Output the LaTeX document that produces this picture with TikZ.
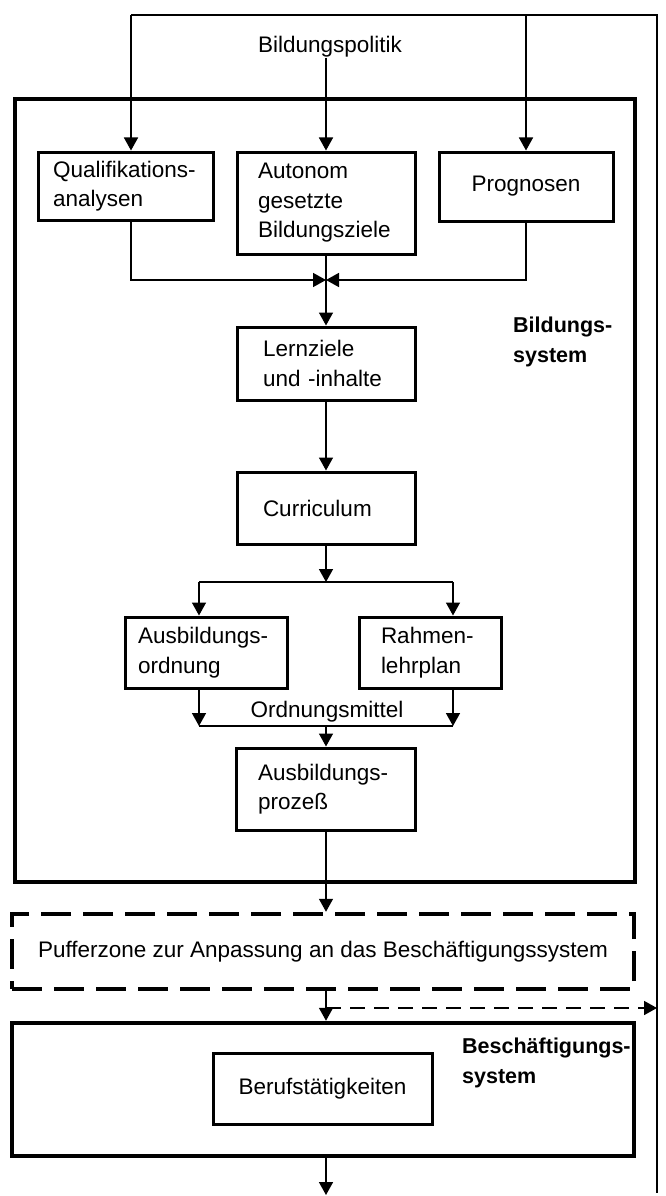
\documentclass[tikz,border=0pt]{standalone}
\usepackage{fontspec}
\setmainfont{Liberation Sans}
\usetikzlibrary{arrows.meta}
\begin{document}
\begin{tikzpicture}[x=1pt,y=-1pt,
  conn/.style={line width=1.6pt},
  arr/.style={conn,-{Triangle[length=13pt,width=14pt]}},
  txt/.style={font=\fontsize{22.5}{29.5}\selectfont},
  box/.style={txt,draw,line width=3pt,align=left,inner ysep=0pt},
  cbox/.style={txt,draw,line width=3pt,align=center,inner sep=0pt},
  frame/.style={draw,line width=4.5pt,inner sep=0pt},
  lbl/.style={txt,inner sep=0pt},
  blbl/.style={font=\fontsize{21.5}{29.5}\selectfont\bfseries,align=left,inner sep=0pt,anchor=north west},
]
\useasboundingbox (0,0) rectangle (666,1196);

% big frames
\node[frame,minimum width=620pt,minimum height=783pt] (BS) at (325,490.5) {};
\node[frame,txt,dash pattern=on 30pt off 12pt,minimum width=622pt,minimum height=75pt] (PZ) at (323,951.5) {Pufferzone zur Anpassung an das Beschäftigungssystem};
\node[frame,minimum width=622pt,minimum height=133pt] (BE) at (323,1089.5) {};

% boxes
\node[box,text width=145pt,inner xsep=15pt,minimum height=68pt] (Q) at (125.5,186) {Qualifikations-\\analysen};
\node[box,text width=136pt,inner xsep=21pt,minimum height=102pt] (A) at (326,203) {Autonom\\gesetzte\\Bildungsziele};
\node[cbox,minimum width=174pt,minimum height=69pt] (P) at (526,186.5) {Prognosen};
\node[box,text width=126pt,inner xsep=26pt,minimum height=73pt] (L) at (326,363.5) {Lernziele\\und -inhalte};
\node[box,text width=126pt,inner xsep=26pt,minimum height=72pt] (C) at (326,508) {Curriculum};
\node[box,text width=136pt,inner xsep=13pt,minimum height=71pt] (O) at (206,652.5) {Ausbildungs-\\ordnung};
\node[box,text width=98pt,inner xsep=22pt,minimum height=71pt] (R) at (430,652.5) {Rahmen-\\lehrplan};
\node[box,text width=136pt,inner xsep=21.5pt,minimum height=82pt] (AP) at (326,789) {Ausbildungs-\\prozeß};
\node[cbox,minimum width=219pt,minimum height=71pt] (BT) at (322.5,1088.5) {Berufstätigkeiten};

% labels
\node[lbl] (BPol) at (330,47) {Bildungspolitik};
\node[blbl] (BSl) at (513,317) {Bildungs-\\system};
\node[blbl] (BEl) at (462,1038) {Beschäftigungs-\\system};
\node[lbl] (OM) at (327,712) {Ordnungsmittel};

% top distribution and feedback line
\coordinate (tl) at (131,15);
\coordinate (tr) at (657,15);
\coordinate (br) at (657,1193);
\draw[conn] (tl) -- (tr) -- (br);
\draw[arr] (tl) -- (tl |- Q.north);
\draw[arr] (P.north |- tl) -- (P.north);
\draw[arr] (BPol.south -| A.north) -- (A.north);

% merge
\coordinate (m) at (326,280);
\draw[arr] (tl |- Q.south) |- (m);
\draw[arr] (P.south) |- (m);
\draw[arr] (A.south) -- (L.north);
\draw[arr] (L.south) -- (C.north);

% split
\coordinate (s) at (326,582);
\coordinate (sl) at (199,582);
\coordinate (sr) at (453,582);
\draw[arr] (C.south) -- (s);
\draw[conn] (sl) -- (sr);
\draw[arr] (sl) -- (sl |- O.north);
\draw[arr] (sr) -- (sr |- R.north);

% Ordnungsmittel
\coordinate (ol) at (199,726);
\coordinate (or) at (453,726);
\draw[arr] (ol |- O.south) -- (ol);
\draw[arr] (or |- R.south) -- (or);
\draw[conn] (ol) -- (or);
\draw[arr] (ol -| AP.north) -- (AP.north);

% lower chain
\draw[arr] (AP.south) -- (AP.south |- PZ.north);
\draw[arr] (AP.south |- PZ.south) -- (AP.south |- BE.north);
\coordinate (d) at (326,1008);
\draw[arr,dash pattern=on 15pt off 9pt] (d) -- (d -| br);
\coordinate (bot) at (326,1195);
\draw[arr] (bot |- BE.south) -- (bot);
\end{tikzpicture}
\end{document}
